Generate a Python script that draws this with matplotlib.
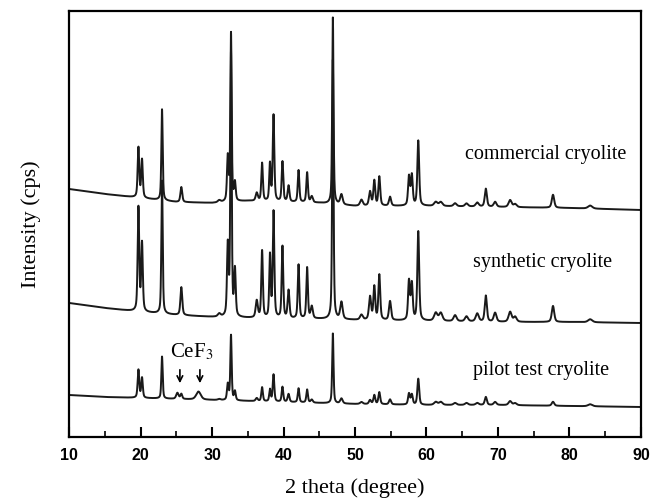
import matplotlib.pyplot as plt
import numpy as np

# peak positions (2 theta) shared by the cryolite patterns
peak_pos = [19.7, 20.2, 23.0, 25.7, 31.0, 32.2, 32.65, 33.2, 36.25, 37.0,
            38.1, 38.6, 39.85, 40.7, 42.1, 43.3, 43.95, 46.9, 48.1, 50.9,
            52.1, 52.7, 53.4, 54.9, 57.55, 57.95, 58.85, 61.3, 62.0, 64.0,
            65.6, 67.1, 68.3, 69.6, 71.7, 72.4, 77.7, 82.9]
peak_fwhm = [0.26, 0.26, 0.22, 0.3, 0.45, 0.26, 0.22, 0.26, 0.35, 0.26,
             0.24, 0.26, 0.26, 0.3, 0.26, 0.26, 0.35, 0.22, 0.4, 0.45,
             0.35, 0.3, 0.3, 0.35, 0.3, 0.3, 0.3, 0.55, 0.55, 0.5,
             0.5, 0.5, 0.35, 0.45, 0.5, 0.5, 0.4, 0.7]

commercial_h = [50, 38, 91, 15, 2, 44, 168, 18, 8, 38,
                37, 86, 40, 16, 32, 30, 6, 187, 10, 6,
                14, 25, 29, 9, 29, 30, 65, 4, 4, 3,
                3, 4, 18, 5, 7, 3, 13, 3]
synthetic_h = [104, 68, 133, 28, 3, 70, 263, 46, 17, 67,
               62, 106, 72, 28, 54, 51, 12, 260, 17, 5,
               23, 33, 45, 19, 39, 36, 89, 8, 8, 6,
               5, 8, 26, 9, 10, 5, 16, 3]
pilot_h = [28, 20, 42, 5, 1, 16, 65, 9, 3, 14,
           12, 27, 15, 8, 14, 13, 3, 70, 5, 2,
           4, 9, 12, 5, 11, 10, 26, 3, 3, 2,
           2, 2, 8, 3, 4, 2, 4, 2]

# CeF3 reflections in the pilot test sample
cef3_pos = [25.15, 28.1]
cef3_fwhm = [0.4, 0.75]
cef3_h = [6, 8]

# background levels
bg_x = [10, 15, 20, 25, 30, 35, 40, 45, 50, 60, 70, 80, 90]
commercial_bg = [248, 243, 239, 235, 234, 236, 235, 234, 231, 231, 230, 229, 227]
synthetic_bg = [134, 129, 125, 122, 120, 119, 118, 118, 117, 116, 115, 115, 114]
pilot_bg = [42, 40, 39, 38, 37, 36, 35, 34, 33, 32, 32, 31, 30]

labels = ["commercial cryolite", "synthetic cryolite", "pilot test cryolite"]
label_x = [65.4, 66.5, 66.5]
label_y = [282, 175, 66]


def pattern(x, bg, pos, fwhm, h):
    y = np.interp(x, bg_x, bg)
    for p, w, a in zip(pos, fwhm, h):
        d = (x - p) / (w / 2)
        y = y + a * (0.5 / (1 + d**2) + 0.5 * np.exp(-np.log(2) * d**2))
    return y


x = np.linspace(10, 90, 6001)
y_com = pattern(x, commercial_bg, peak_pos, peak_fwhm, commercial_h)
y_syn = pattern(x, synthetic_bg, peak_pos, peak_fwhm, synthetic_h)
y_pil = pattern(x, pilot_bg, peak_pos, peak_fwhm, pilot_h)
y_pil = y_pil + pattern(x, [0] * len(bg_x), cef3_pos, cef3_fwhm, cef3_h)

fig = plt.figure(figsize=(6.52, 5.0), dpi=100)
ax = fig.add_axes([0.106, 0.126, 0.877, 0.852])

for yy in [y_com, y_syn, y_pil]:
    ax.plot(x, yy, color='#1a1a1a', lw=1.4)

for t, tx, ty in zip(labels, label_x, label_y):
    ax.text(tx, ty, t, family='Liberation Serif', fontsize=14.5, va='center')

ax.text(27.1, 85, "CeF$_3$", family='Liberation Serif', fontsize=15,
        ha='center', va='center', math_fontfamily='stix')
for p in [25.5, 28.3]:
    ax.annotate("", xy=(p, 51), xytext=(p, 70),
                arrowprops=dict(arrowstyle='->', color='black', lw=1.2))

ax.set_xlim(10, 90)
ax.set_ylim(0, 426)
ax.set_xticks(range(10, 91, 10))
ax.set_xticks(range(15, 90, 10), minor=True)
ax.set_yticks([])
ax.tick_params(axis='x', which='major', direction='in', length=7, width=1.5,
               labelsize=11.5, pad=8)
ax.tick_params(axis='x', which='minor', direction='in', length=4, width=1.2)
for lab in ax.get_xticklabels():
    lab.set_family('Liberation Sans')
    lab.set_fontweight('bold')
for s in ax.spines.values():
    s.set_linewidth(1.6)

ax.set_xlabel("2 theta (degree)", family='Liberation Serif', fontsize=16, labelpad=11)
ax.set_ylabel("Intensity (cps)", family='Liberation Serif', fontsize=16, labelpad=20)

plt.savefig("out.png", dpi=100)
